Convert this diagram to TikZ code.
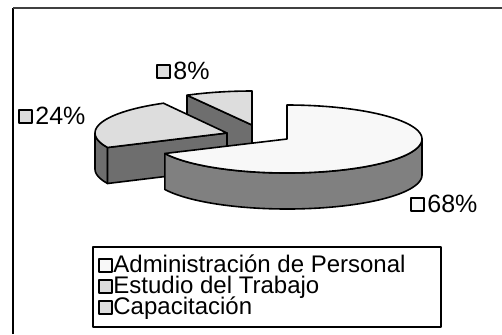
\documentclass[tikz,border=0pt]{standalone}
\usepackage{fontspec}
\setmainfont{Liberation Sans}
\definecolor{topW}{HTML}{F8F8F8}
\definecolor{topG}{HTML}{DDDDDD}
\definecolor{sideBig}{HTML}{808080}
\definecolor{sideSmall}{HTML}{6E6E6E}
\begin{document}
\begin{tikzpicture}[x=0.5pt,y=-0.5pt,line join=round,
  pie/.style={draw=black,line width=0.8pt},
  chk/.style={draw=black,line width=1pt,minimum size=6.5pt,inner sep=0pt},
  lbl/.style={anchor=west,inner sep=0pt,font=\fontsize{12.5}{14}\selectfont},
  leg/.style={anchor=base west,inner sep=0pt,text height=7pt,text depth=1pt,font=\fontsize{12}{14}\selectfont}]
\useasboundingbox (0,0) rectangle (502,334);
\fill[white] (0,0) rectangle (502,334);
% outer frame
\draw[line width=1pt,black] (13,334) -- (13,8);
\draw[line width=1pt,black!75] (13,8) -- (502,8);
% ---- 8% slice (apex 252,125)
\filldraw[pie,fill=sideSmall] (187,95.2) -- (252,125) -- (252,161) -- (187,131.2) -- cycle;
\filldraw[pie,fill=topG] (252,125) -- (187,95.2) -- plot[domain=118.8:90,samples=20] ({252+135*cos(\x)},{125-34*sin(\x)}) -- cycle;
% ---- 24% slice (apex 227,133)
\filldraw[pie,fill=sideSmall] plot[domain=180:205.2,samples=10] ({227+132*cos(\x)},{133-34*sin(\x)}) -- plot[domain=205.2:180,samples=10] ({227+132*cos(\x)},{169-34*sin(\x)}) -- cycle;
\filldraw[pie,fill=sideSmall] (107.5,147.5) -- (227,133) -- (227,169) -- (107.5,183.5) -- cycle;
\filldraw[pie,fill=topG] (227,133) -- (163.4,103.2) -- plot[domain=118.8:205.2,samples=30] ({227+132*cos(\x)},{133-34*sin(\x)}) -- cycle;
% ---- 68% slice (apex 287,139)
\filldraw[pie,fill=sideBig] plot[domain=0:-154.8,samples=60] ({287+135*cos(\x)},{139-34*sin(\x)}) -- plot[domain=-154.8:0,samples=60] ({287+135*cos(\x)},{175-34*sin(\x)}) -- cycle;
\filldraw[pie,fill=topW] (287,139) -- (287,105) -- plot[domain=90:-154.8,samples=90] ({287+135*cos(\x)},{139-34*sin(\x)}) -- cycle;
% ---- data labels
\node[chk,fill=topW] (b68) at (417,204) {};
\node[lbl] (t68) at (427,204) {68\%};
\node[chk,fill=topG] (b24) at (25,116) {};
\node[lbl] (t24) at (35,116) {24\%};
\node[chk,fill=topG] (b8) at (163,71) {};
\node[lbl] (t8) at (173,71) {8\%};
% ---- legend
\draw[line width=0.8pt,black] (93,247) rectangle (441,327);
\node[chk,fill=topW] (l1) at (105,265) {};
\node[leg] (lt1) at (113,272) {Administración de Personal};
\node[chk,fill=topG] (l2) at (105,286) {};
\node[leg] (lt2) at (113,293) {Estudio del Trabajo};
\node[chk,fill=topG] (l3) at (105,307) {};
\node[leg] (lt3) at (113,314) {Capacitación};
\end{tikzpicture}
\end{document}
